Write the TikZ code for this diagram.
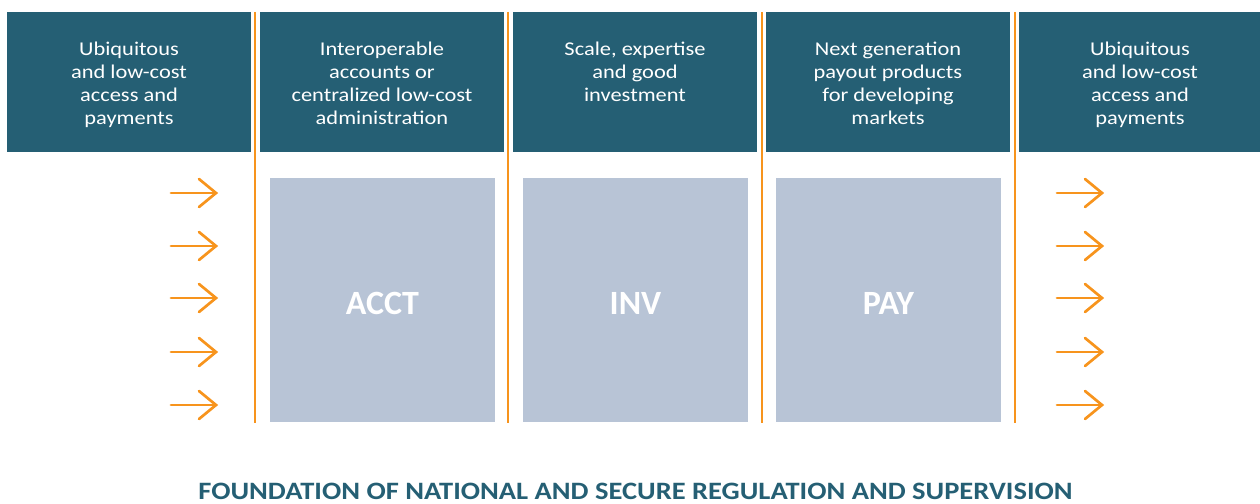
\documentclass[tikz,border=0pt]{standalone}
\usepackage{fontspec}
\setmainfont{Carlito}
\newfontfamily\headfont{Carlito}[FakeStretch=1.15]
\newfontfamily\footfont{Carlito}[FakeStretch=1.14]
\definecolor{teal}{HTML}{255F74}
\definecolor{orng}{HTML}{F7941D}
\definecolor{greybox}{HTML}{B8C4D6}
\tikzset{
  head/.style={fill=teal, draw=none},
  headtext/.style={text=white, align=center, font=\headfont\fontsize{19.5}{23}\selectfont, inner sep=0pt, anchor=base},
  panel/.style={fill=greybox, draw=none},
  paneltext/.style={text=white, font=\fontsize{34}{40}\selectfont\bfseries, inner sep=0pt, anchor=base},
  divider/.style={draw=orng, line width=2.7pt},
  flow/.style={draw=orng, line width=2.7pt, line cap=round, line join=miter},
  pics/flowarrow/.style={code={
    \draw[flow] (0,0) -- (45,0);
    \draw[flow] (28,-14) -- (45,0) -- (28,14);
  }}
}
\begin{document}
\begin{tikzpicture}[x=1pt,y=-1pt]
\useasboundingbox (0,0) rectangle (1260,503);
% header boxes
\fill[head] (7,12) rectangle (251,152);
\fill[head] (260,12) rectangle (504,152);
\fill[head] (513,12) rectangle (757,152);
\fill[head] (766,12) rectangle (1010,152);
\fill[head] (1019,12) rectangle (1260,152);
\node[headtext] (h1) at (129,124) {Ubiquitous\\and low-cost\\access and\\payments};
\node[headtext] (h2) at (382,124) {Interoperable\\accounts or\\centralized low-cost\\administration};
\node[headtext] (h3) at (635,101) {Scale, expertise\\and good\\investment};
\node[headtext] (h4) at (888,124) {Next generation\\payout products\\for developing\\markets};
\node[headtext] (h5) at (1140,124) {Ubiquitous\\and low-cost\\access and\\payments};
% dividers
\draw[divider] (255,12) -- (255,423);
\draw[divider] (508,12) -- (508,423);
\draw[divider] (762,12) -- (762,423);
\draw[divider] (1015,12) -- (1015,423);
% panels
\fill[panel] (270,178) rectangle (495,422);
\fill[panel] (523,178) rectangle (748,422);
\fill[panel] (776,178) rectangle (1001,422);
\node[paneltext] (acct) at (382.5,314) {ACCT};
\node[paneltext] (inv) at (635.5,314) {INV};
\node[paneltext] (pay) at (888.5,314) {PAY};
% arrows
\foreach \y in {193,246,298,352,405}{
  \pic at (171,\y) {flowarrow};
  \pic at (1057,\y) {flowarrow};
}
% footer
\node[text=teal, font=\footfont\fontsize{25}{28}\selectfont\bfseries, inner sep=0pt, anchor=base] (foot) at (635.5,499) {FOUNDATION OF NATIONAL AND SECURE REGULATION AND SUPERVISION};
\end{tikzpicture}
\end{document}
